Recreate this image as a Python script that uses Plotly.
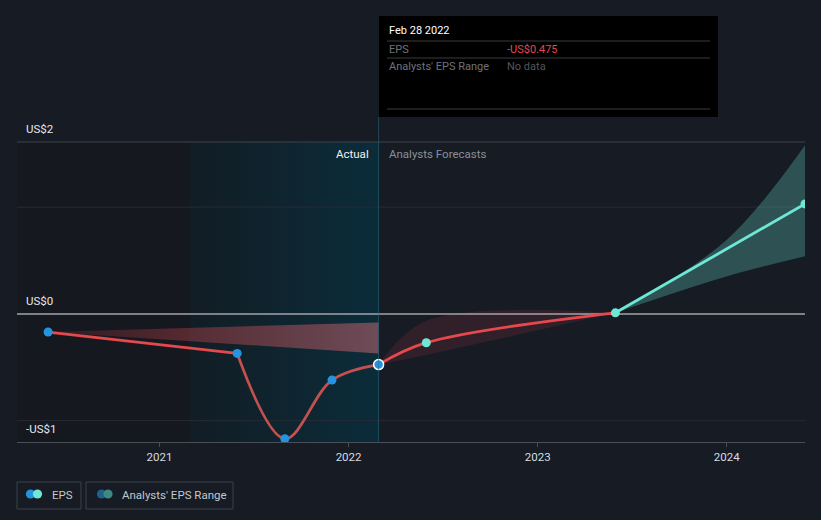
import plotly.graph_objects as go

# ---------------- data ----------------
ACTUAL_DATES = ["2020-05-31", "2021-05-31", "2021-08-31", "2021-11-30", "2022-02-28"]
ACTUAL_EPS = [-0.17, -0.37, -1.17, -0.62, -0.475]

FORECAST_DATES = ["2022-02-28", "2022-05-31", "2023-05-31", "2024-05-31"]
FORECAST_EPS = [-0.475, -0.27, 0.01, 1.03]

# analysts' range (negative part, red)
NEG_RANGE_DATES = ["2022-02-28", "2022-05-31", "2023-05-31"]
NEG_RANGE_HIGH = [-0.475, -0.065, 0.01]
NEG_RANGE_LOW = [-0.475, -0.385, 0.01]

# analysts' range (positive part, teal)
POS_RANGE_DATES = ["2023-05-31", "2023-12-31", "2024-05-31"]
POS_RANGE_HIGH = [0.01, 0.69, 1.58]
POS_RANGE_LOW = [0.01, 0.35, 0.54]

# past analysts' range wedge
PAST_RANGE_DATES = ["2020-05-31", "2022-02-28", "2022-02-28"]
PAST_RANGE_VALS = [-0.17, -0.08, -0.37]

HIGHLIGHT_START = "2021-02-28"
HIGHLIGHT_END = "2022-02-28"
X_RANGE = ["2020-04-01", "2024-05-31"]
Y_RANGE = [-1.2, 1.61]
X_TICKS = ["2021-01-01", "2022-01-01", "2023-01-01", "2024-01-01"]
X_TICK_TEXT = ["2021", "2022", "2023", "2024"]
Y_GRID = [-1, 1]
Y_ZERO = 0
Y_LABELS = ["US$2", "US$0", "-US$1"]

# ---------------- styling helpers ----------------
BG = "#161b24"
RED = "#e5484d"
RED_MUTED = "#c4514f"
TEAL = "#6ee7d5"
BLUE = "#2394df"
FONT = "Roboto"

L, R, T, B = 17, 805, 142, 442
W, H = R - L, B - T


def px(xp):
    return (xp - L) / W


def py(yp):
    return (B - yp) / H


fig = go.Figure()

# left darker region
fig.add_trace(go.Scatter(
    x=[X_RANGE[0], HIGHLIGHT_START, HIGHLIGHT_START, X_RANGE[0]],
    y=[Y_RANGE[0], Y_RANGE[0], Y_RANGE[1], Y_RANGE[1]],
    fill="toself", mode="lines", line=dict(width=0),
    fillcolor="rgb(21,24,31)",
    hoverinfo="skip", showlegend=False))

# highlighted last-12-months region
fig.add_trace(go.Scatter(
    x=[HIGHLIGHT_START, HIGHLIGHT_END, HIGHLIGHT_END, HIGHLIGHT_START],
    y=[Y_RANGE[0], Y_RANGE[0], Y_RANGE[1], Y_RANGE[1]],
    fill="toself", mode="lines", line=dict(width=0),
    fillgradient=dict(type="horizontal",
                      colorscale=[[0, "rgb(18,29,37)"], [1, "rgb(11,44,58)"]]),
    hoverinfo="skip", showlegend=False))

# grid lines (drawn above the background regions)
for g in Y_GRID:
    fig.add_trace(go.Scatter(x=X_RANGE, y=[g, g], mode="lines",
                             line=dict(color="#272b34", width=1),
                             hoverinfo="skip", showlegend=False))

# negative forecast range (red)
fig.add_trace(go.Scatter(x=NEG_RANGE_DATES, y=NEG_RANGE_LOW, mode="lines",
                         line=dict(width=0, shape="spline"), hoverinfo="skip", showlegend=False))
fig.add_trace(go.Scatter(x=NEG_RANGE_DATES, y=NEG_RANGE_HIGH, mode="lines",
                         line=dict(width=0, shape="spline"), fill="tonexty",
                         fillcolor="rgba(229,72,77,0.13)", hoverinfo="skip", showlegend=False))

# positive forecast range (teal)
fig.add_trace(go.Scatter(x=POS_RANGE_DATES, y=POS_RANGE_LOW, mode="lines",
                         line=dict(width=0, shape="spline"), hoverinfo="skip", showlegend=False))
fig.add_trace(go.Scatter(x=POS_RANGE_DATES, y=POS_RANGE_HIGH, mode="lines",
                         line=dict(width=0, shape="spline"), fill="tonexty",
                         fillcolor="rgba(110,231,213,0.27)", hoverinfo="skip", showlegend=False))

# zero line
fig.add_trace(go.Scatter(x=X_RANGE, y=[Y_ZERO, Y_ZERO], mode="lines",
                         line=dict(color="#a3a5a8", width=1.5),
                         hoverinfo="skip", showlegend=False))

# past range wedge
fig.add_trace(go.Scatter(
    x=PAST_RANGE_DATES, y=PAST_RANGE_VALS, fill="toself", mode="lines", line=dict(width=0),
    fillgradient=dict(type="horizontal",
                      colorscale=[[0, "rgba(230,70,75,0.1)"], [0.45, "rgba(230,80,85,0.33)"],
                                  [1, "rgba(230,115,125,0.45)"]]),
    hoverinfo="skip", showlegend=False))

# actual EPS line: bright before the last year, muted inside it
fig.add_trace(go.Scatter(x=ACTUAL_DATES[:2], y=ACTUAL_EPS[:2], mode="lines",
                         line=dict(color=RED, width=2.8, shape="spline"),
                         hoverinfo="skip", showlegend=False))
fig.add_trace(go.Scatter(x=ACTUAL_DATES[1:], y=ACTUAL_EPS[1:], mode="lines",
                         line=dict(color=RED_MUTED, width=2.8, shape="spline"),
                         hoverinfo="skip", showlegend=False))

# forecast EPS line: red while negative, teal afterwards
fig.add_trace(go.Scatter(x=FORECAST_DATES[:3], y=FORECAST_EPS[:3], mode="lines",
                         line=dict(color=RED, width=2.8, shape="spline"),
                         hoverinfo="skip", showlegend=False))
fig.add_trace(go.Scatter(x=FORECAST_DATES[2:], y=FORECAST_EPS[2:], mode="lines",
                         line=dict(color=TEAL, width=2.8, shape="spline"),
                         hoverinfo="skip", showlegend=False))

# markers
fig.add_trace(go.Scatter(x=ACTUAL_DATES[:-1], y=ACTUAL_EPS[:-1], mode="markers",
                         marker=dict(color=BLUE, size=9), hoverinfo="skip", showlegend=False))
fig.add_trace(go.Scatter(x=FORECAST_DATES[1:], y=FORECAST_EPS[1:], mode="markers",
                         marker=dict(color=TEAL, size=9), hoverinfo="skip", showlegend=False))
fig.add_trace(go.Scatter(x=ACTUAL_DATES[-1:], y=ACTUAL_EPS[-1:], mode="markers",
                         marker=dict(color=BLUE, size=10, line=dict(color="#ffffff", width=1.5)),
                         hoverinfo="skip", showlegend=False))

shapes = []
annotations = []

# top border line
shapes.append(dict(type="line", xref="paper", yref="paper", x0=0, x1=1, y0=1, y1=1,
                   line=dict(color="#3f434c", width=1)))
# cursor line
shapes.append(dict(type="line", xref="x", yref="paper", x0=HIGHLIGHT_END, x1=HIGHLIGHT_END,
                   y0=0, y1=py(117), line=dict(color="rgba(40,110,130,0.55)", width=1)))

# y labels (above their lines)
for lbl, ypix in zip(Y_LABELS, [T, 314, B]):
    annotations.append(dict(xref="paper", yref="paper", x=px(24), y=py(ypix - 4),
                            text=lbl, showarrow=False, xanchor="left", yanchor="bottom",
                            font=dict(family=FONT, size=11.5, color="#e6e8eb")))

# Actual / Analysts Forecasts
annotations.append(dict(xref="x", yref="paper", x=HIGHLIGHT_END, y=py(154), xshift=-8,
                        text="Actual", showarrow=False, xanchor="right", yanchor="middle",
                        font=dict(family=FONT, size=11.5, color="#f0f2f4")))
annotations.append(dict(xref="x", yref="paper", x=HIGHLIGHT_END, y=py(154), xshift=8,
                        text="Analysts Forecasts", showarrow=False, xanchor="left", yanchor="middle",
                        font=dict(family=FONT, size=11.5, color="#8b9098")))

# tooltip box
shapes.append(dict(type="rect", xref="paper", yref="paper", x0=px(379), x1=px(718),
                   y0=py(117), y1=py(16), fillcolor="#000000", line=dict(width=0)))
for yl in [41, 58, 109]:
    shapes.append(dict(type="line", xref="paper", yref="paper", x0=px(387), x1=px(710),
                       y0=py(yl), y1=py(yl), line=dict(color="#3a3a3a", width=1)))
tip = [
    ("Feb 28 2022", 387, 31, "#ffffff"),
    ("EPS", 387, 49.5, "#6e727a"),
    ("-US$0.475", 505, 49.5, RED),
    ("Analysts' EPS Range", 387, 66.5, "#6e727a"),
    ("No data", 505, 66.5, "#52565d"),
]
for txt, xx, yy, col in tip:
    annotations.append(dict(xref="paper", yref="paper", x=px(xx), y=py(yy), text=txt,
                            showarrow=False, xanchor="left", yanchor="middle",
                            font=dict(family=FONT, size=11, color=col)))

# legend
for x0, x1 in [(17, 81), (86, 233)]:
    shapes.append(dict(type="rect", xref="paper", yref="paper", x0=px(x0), x1=px(x1),
                       y0=py(509), y1=py(482), line=dict(color="#3c4049", width=1),
                       fillcolor="rgba(0,0,0,0)"))
for cx, col in [(30.5, BLUE), (37.5, TEAL), (101.5, "#22608c"), (108, "#3f8a80")]:
    r = 4.6
    shapes.append(dict(type="circle", xref="paper", yref="paper", x0=px(cx - r), x1=px(cx + r),
                       y0=py(494 + r), y1=py(494 - r), fillcolor=col, line=dict(width=0)))
for txt, xx in [("EPS", 50), ("Analysts' EPS Range", 120)]:
    annotations.append(dict(xref="paper", yref="paper", x=px(xx), y=py(494.5), text=txt,
                            showarrow=False, xanchor="left", yanchor="middle",
                            font=dict(family=FONT, size=11.5, color="#c3c7cd")))

fig.update_layout(
    width=821, height=520,
    margin=dict(l=L, r=821 - R, t=T, b=520 - B),
    paper_bgcolor=BG, plot_bgcolor=BG,
    hovermode=False, showlegend=False,
    shapes=shapes, annotations=annotations,
    xaxis=dict(type="date", range=X_RANGE, tickvals=X_TICKS, ticktext=X_TICK_TEXT,
               showgrid=False, zeroline=False, showline=True, linecolor="#4a4e57", linewidth=1,
               ticks="outside", ticklen=4, tickcolor="#4a4e57",
               tickfont=dict(family=FONT, size=11.5, color="#d8dbe0"), fixedrange=True),
    yaxis=dict(range=Y_RANGE, showticklabels=False, showgrid=False, zeroline=False,
               fixedrange=True),
)

fig.write_html(
    "out.html",
    config={"displayModeBar": False, "staticPlot": True},
    post_script="document.body.style.margin='0';document.body.style.padding='0';"
                "document.body.style.background='" + BG + "';",
)
